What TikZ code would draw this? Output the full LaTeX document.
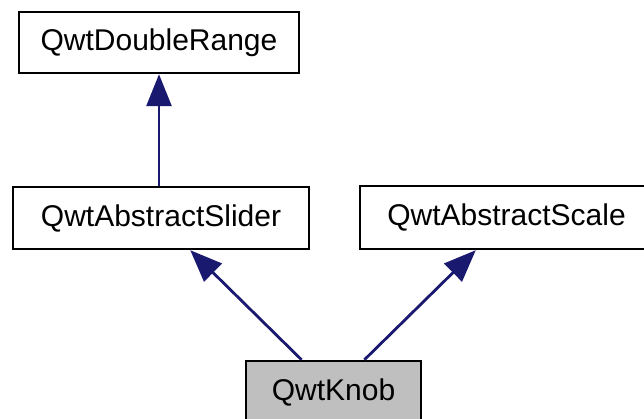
\documentclass[tikz,border=0pt]{standalone}
\usepackage{fontspec}
\setmainfont{Liberation Sans}
\usetikzlibrary{arrows.meta,calc}
\definecolor{edgeblue}{RGB}{25,25,112}
\definecolor{knobgrey}{RGB}{191,191,191}
\tikzset{
  classbox/.style={draw=black, line width=2.4pt, fill=white, inner sep=0pt,
    font=\fontsize{30}{32}\selectfont, text=black},
  inh/.style={draw=edgeblue, line width=2.8pt,
    -{Triangle[length=32pt,width=25pt]}, color=edgeblue},
}
\begin{document}
\begin{tikzpicture}[x=1pt,y=-1pt]
  \clip (0,0) rectangle (644,419);
  \fill[white] (0,0) rectangle (644,419);

  \node[classbox, minimum width=280pt, minimum height=61pt] (range) at (159,42.5) {QwtDoubleRange};
  \node[classbox, minimum width=296pt, minimum height=62pt] (slider) at (161,218) {QwtAbstractSlider};
  \node[classbox, minimum width=293pt, minimum height=63pt] (scale) at (506.5,217.5) {QwtAbstractScale};
  \node[classbox, fill=knobgrey, minimum width=175pt, minimum height=63pt] (knob) at (333.5,392.5) {QwtKnob};

  % inheritance edges
  \draw[inh] (slider.north -| range.south) -- (range.south);
  \draw[inh] ($(knob.north west)!0.32!(knob.north east)$) -- ($(slider.south west)!0.598!(slider.south east)$);
  \draw[inh] ($(knob.north west)!0.674!(knob.north east)$) -- ($(scale.south west)!0.396!(scale.south east)$);
\end{tikzpicture}
\end{document}
